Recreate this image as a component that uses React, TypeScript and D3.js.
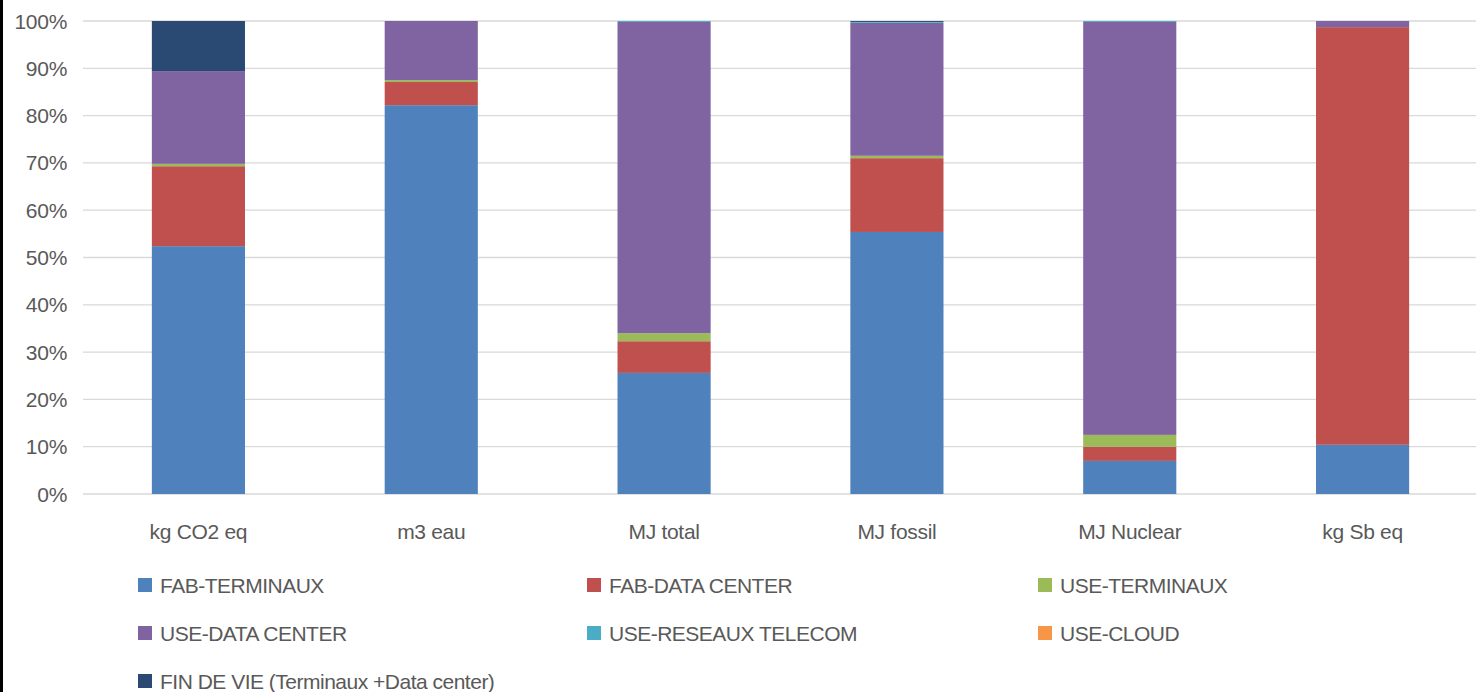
import React from "react";
import * as d3 from "d3";

const categories = ["kg CO2 eq", "m3 eau", "MJ total", "MJ fossil", "MJ Nuclear", "kg Sb eq"];
const seriesNames = [
  "FAB-TERMINAUX",
  "FAB-DATA CENTER",
  "USE-TERMINAUX",
  "USE-DATA CENTER",
  "USE-RESEAUX TELECOM",
  "USE-CLOUD",
  "FIN DE VIE (Terminaux +Data center)",
];
const seriesColors = ["#4F81BD", "#C0504D", "#9BBB59", "#8064A2", "#4BACC6", "#F79646", "#2A4A73"];

const fabTerminaux = [52.4, 82.2, 25.6, 55.4, 7.0, 10.4];
const fabDataCenter = [16.9, 4.9, 6.7, 15.6, 3.0, 88.3];
const useTerminaux = [0.5, 0.4, 1.7, 0.5, 2.5, 0.0];
const useDataCenter = [19.6, 12.5, 65.8, 28.1, 87.3, 1.3];
const useReseaux = [0.0, 0.0, 0.2, 0.2, 0.2, 0.0];
const useCloud = [0.0, 0.0, 0.0, 0.0, 0.0, 0.0];
const finDeVie = [10.6, 0.0, 0.0, 0.2, 0.0, 0.0];

const yTicks = [0, 10, 20, 30, 40, 50, 60, 70, 80, 90, 100];

const W = 1476;
const H = 692;
const FONT = "'Liberation Sans', Arial, sans-serif";
const TEXT = "#595959";
const FS = 21;

export default function App() {
  const seriesValues = [fabTerminaux, fabDataCenter, useTerminaux, useDataCenter, useReseaux, useCloud, finDeVie];
  const rows = categories.map((c, i) => {
    const r: any = { cat: c };
    seriesNames.forEach((s, j) => (r[s] = seriesValues[j][i]));
    return r;
  });
  const stacked = d3.stack<any>().keys(seriesNames)(rows);

  const x = d3.scaleBand<string>().domain(categories).range([82, 1479]).paddingInner(0.6).paddingOuter(0.3);
  const y = d3.scaleLinear().domain([0, 100]).range([494, 21]);

  const legendCols = [138, 587, 1038];
  const legendRows = [585, 633, 681];

  return (
    <svg width={W} height={H} style={{ position: "absolute", left: 0, top: 0, background: "#fff" }}>
      <rect x={0} y={0} width={W} height={H} fill="#fff" />
      <rect x={0} y={0} width={3} height={H} fill="#000" />
      {yTicks.map((t) => (
        <g key={t}>
          <line x1={83} x2={W} y1={y(t)} y2={y(t)} stroke="#D9D9D9" strokeWidth={1.3} />
          <text x={67} y={y(t)} dy="0.36em" textAnchor="end" fontFamily={FONT} fontSize={FS} fill={TEXT} letterSpacing={-0.3}>
            {t}%
          </text>
        </g>
      ))}
      {stacked.map((s, j) => (
        <g key={s.key} fill={seriesColors[j]}>
          {s.map((d, i) => {
            const h = y(d[0]) - y(d[1]);
            if (h <= 0) return null;
            return <rect key={i} x={x(categories[i])} y={y(d[1])} width={x.bandwidth()} height={h} />;
          })}
        </g>
      ))}
      {categories.map((c) => (
        <text key={c} x={(x(c) as number) + x.bandwidth() / 2} y={539} textAnchor="middle" fontFamily={FONT} fontSize={FS} fill={TEXT} letterSpacing={-0.3}>
          {c}
        </text>
      ))}
      {seriesNames.map((s, j) => {
        const cx = legendCols[j % 3];
        const cy = legendRows[Math.floor(j / 3)];
        return (
          <g key={s}>
            <rect x={cx} y={cy - 7} width={14} height={14} fill={seriesColors[j]} />
            <text x={cx + 22} y={cy} dy="0.36em" fontFamily={FONT} fontSize={FS} fill={TEXT} letterSpacing={-0.5}>
              {s}
            </text>
          </g>
        );
      })}
    </svg>
  );
}
